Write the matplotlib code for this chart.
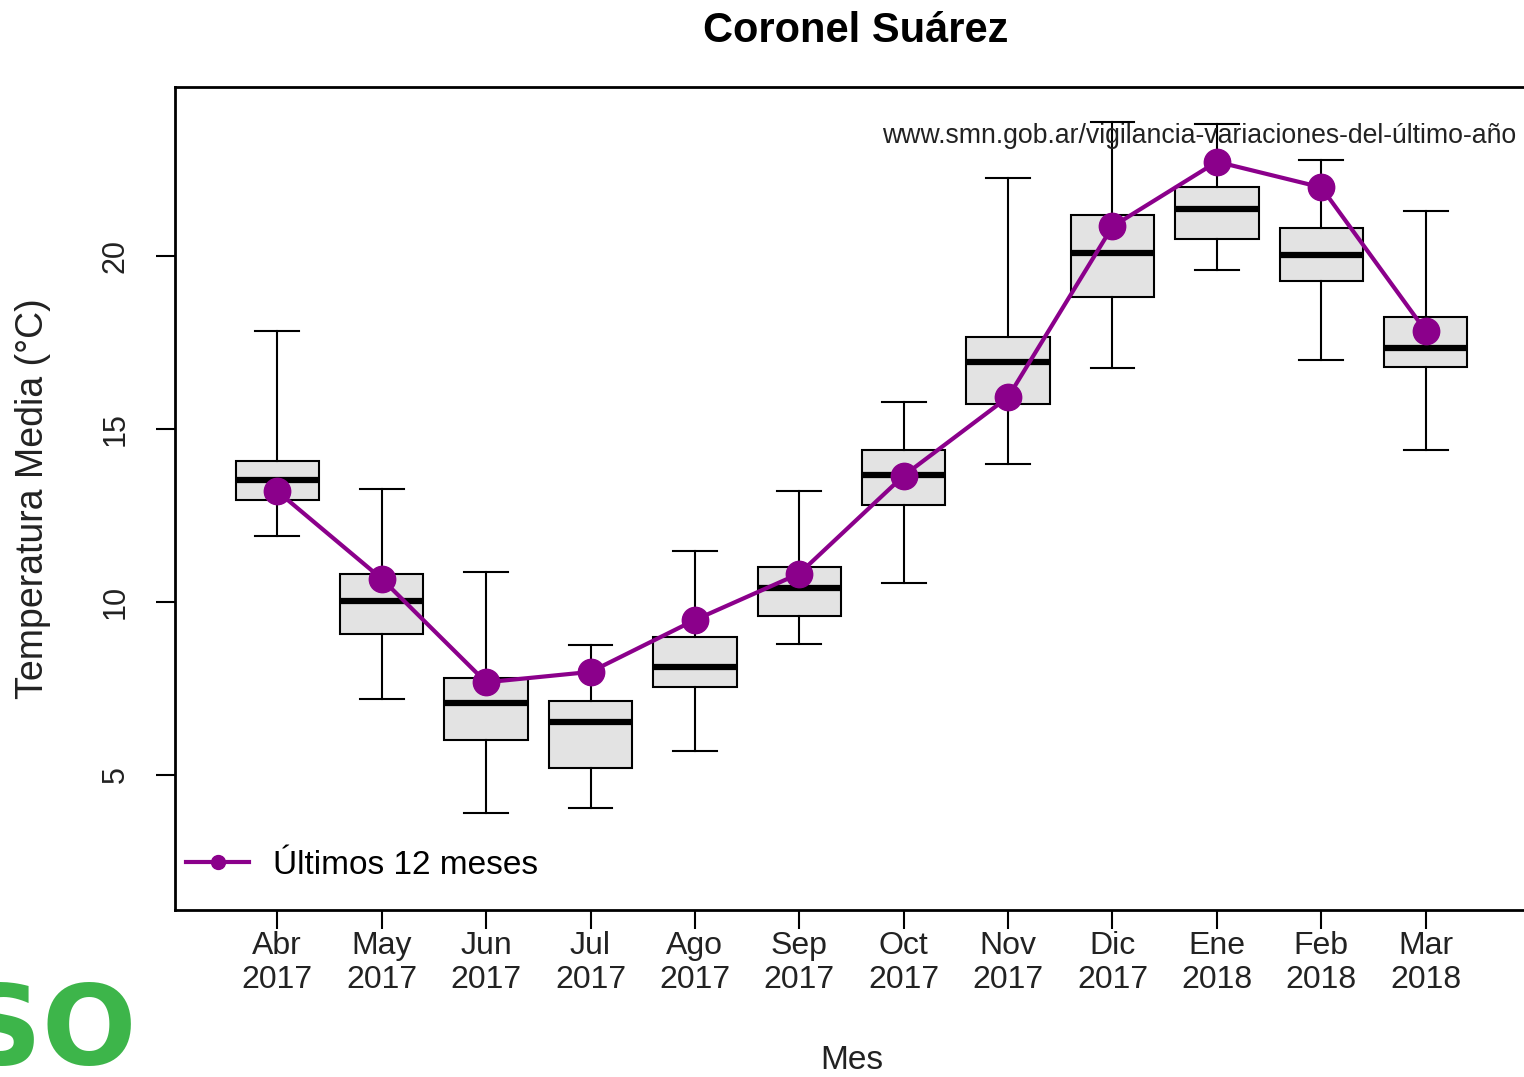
"""Boxplot of monthly mean temperature, Coronel Suárez, with the last 12 months overlaid."""

import matplotlib

matplotlib.use("Agg")
import matplotlib.pyplot as plt

plt.rcParams["font.family"] = ["Liberation Sans", "DejaVu Sans"]

months = ["Abr", "May", "Jun", "Jul", "Ago", "Sep", "Oct", "Nov", "Dic", "Ene", "Feb", "Mar"]
years = ["2017"] * 9 + ["2018"] * 3

# historical distribution per month
whisker_low = [11.9, 7.2, 3.9, 4.05, 5.7, 8.8, 10.55, 14.0, 16.75, 19.6, 17.0, 14.4]
q1 = [12.95, 9.08, 6.0, 5.2, 7.55, 9.6, 12.8, 15.72, 18.8, 20.5, 19.28, 16.8]
median = [13.52, 10.03, 7.08, 6.53, 8.12, 10.4, 13.67, 16.94, 20.08, 21.35, 20.02, 17.33]
q3 = [14.08, 10.81, 7.8, 7.14, 8.98, 11.0, 14.38, 17.66, 21.17, 21.98, 20.8, 18.23]
whisker_high = [17.83, 13.27, 10.87, 8.76, 11.47, 13.2, 15.78, 22.25, 23.87, 23.8, 22.77, 21.3]

# last 12 months
last_12 = [13.2, 10.67, 7.68, 7.98, 9.48, 10.82, 13.65, 15.92, 20.85, 22.72, 21.98, 17.83]

PURPLE = "#8b008b"


def main():
    fig = plt.figure(figsize=(15.24, 10.77), dpi=100)
    ax = fig.add_axes([175 / 1524, 1 - 910 / 1077, (1528 - 175) / 1524, (910 - 87) / 1077])

    stats = []
    for i in range(len(months)):
        stats.append({
            "whislo": whisker_low[i],
            "q1": q1[i],
            "med": median[i],
            "q3": q3[i],
            "whishi": whisker_high[i],
            "fliers": [],
        })
    positions = list(range(1, len(months) + 1))
    ax.bxp(
        stats,
        positions=positions,
        widths=0.8,
        patch_artist=True,
        showfliers=False,
        boxprops={"facecolor": "#e3e3e3", "edgecolor": "black", "linewidth": 1.5},
        medianprops={"color": "black", "linewidth": 4.5, "solid_capstyle": "butt"},
        whiskerprops={"color": "black", "linewidth": 1.5},
        capprops={"color": "black", "linewidth": 1.5},
        capwidths=0.42,
    )

    ax.plot(positions, last_12, color=PURPLE, linewidth=3, marker="o",
            markersize=19, label="Últimos 12 meses", zorder=5)

    ax.set_xlim(0.02, 12.98)
    ax.set_ylim(1.1, 24.88)
    ax.set_xticks(positions)
    ax.set_xticklabels([f"{m}\n{y}" for m, y in zip(months, years)], fontsize=23,
                       linespacing=1.2, color="#222222")
    ax.set_yticks([5, 10, 15, 20])
    ax.set_yticklabels(["5", "10", "15", "20"], rotation=90, va="center",
                       fontsize=22, color="#222222")
    ax.tick_params(axis="both", length=14, width=1.5, direction="out")
    ax.tick_params(axis="x", pad=1)
    ax.tick_params(axis="y", pad=18)
    for spine in ax.spines.values():
        spine.set_linewidth(2)

    ax.set_xlabel("Mes", fontsize=24, labelpad=36, color="#222222")
    ax.set_ylabel("Temperatura Media (°C)", fontsize=27, labelpad=36, color="#222222")
    fig.text(856 / 1524, 1 - 31 / 1077, "Coronel Suárez", ha="center", va="center",
             fontsize=30, fontweight="bold")

    ax.text(0.991, 0.941, "www.smn.gob.ar/vigilancia-variaciones-del-último-año",
            transform=ax.transAxes, ha="right", va="center", fontsize=19.2, color="#222222")

    leg = ax.legend(loc="lower left", bbox_to_anchor=(-0.009, 0.007), frameon=False,
                    fontsize=24, handlelength=1.9, handletextpad=0.7, borderaxespad=0.3)
    for line in leg.get_lines():
        line.set_markersize(10)

    # green logo fragment in the bottom-left corner
    fig.text(136 / 1524, 1 - 1033 / 1077, "SO", ha="right", va="center", fontsize=80,
             fontweight="bold", color="#3db54a", family="DejaVu Sans")

    fig.savefig("out.png", dpi=100)
    plt.close(fig)


if __name__ == "__main__":
    main()
